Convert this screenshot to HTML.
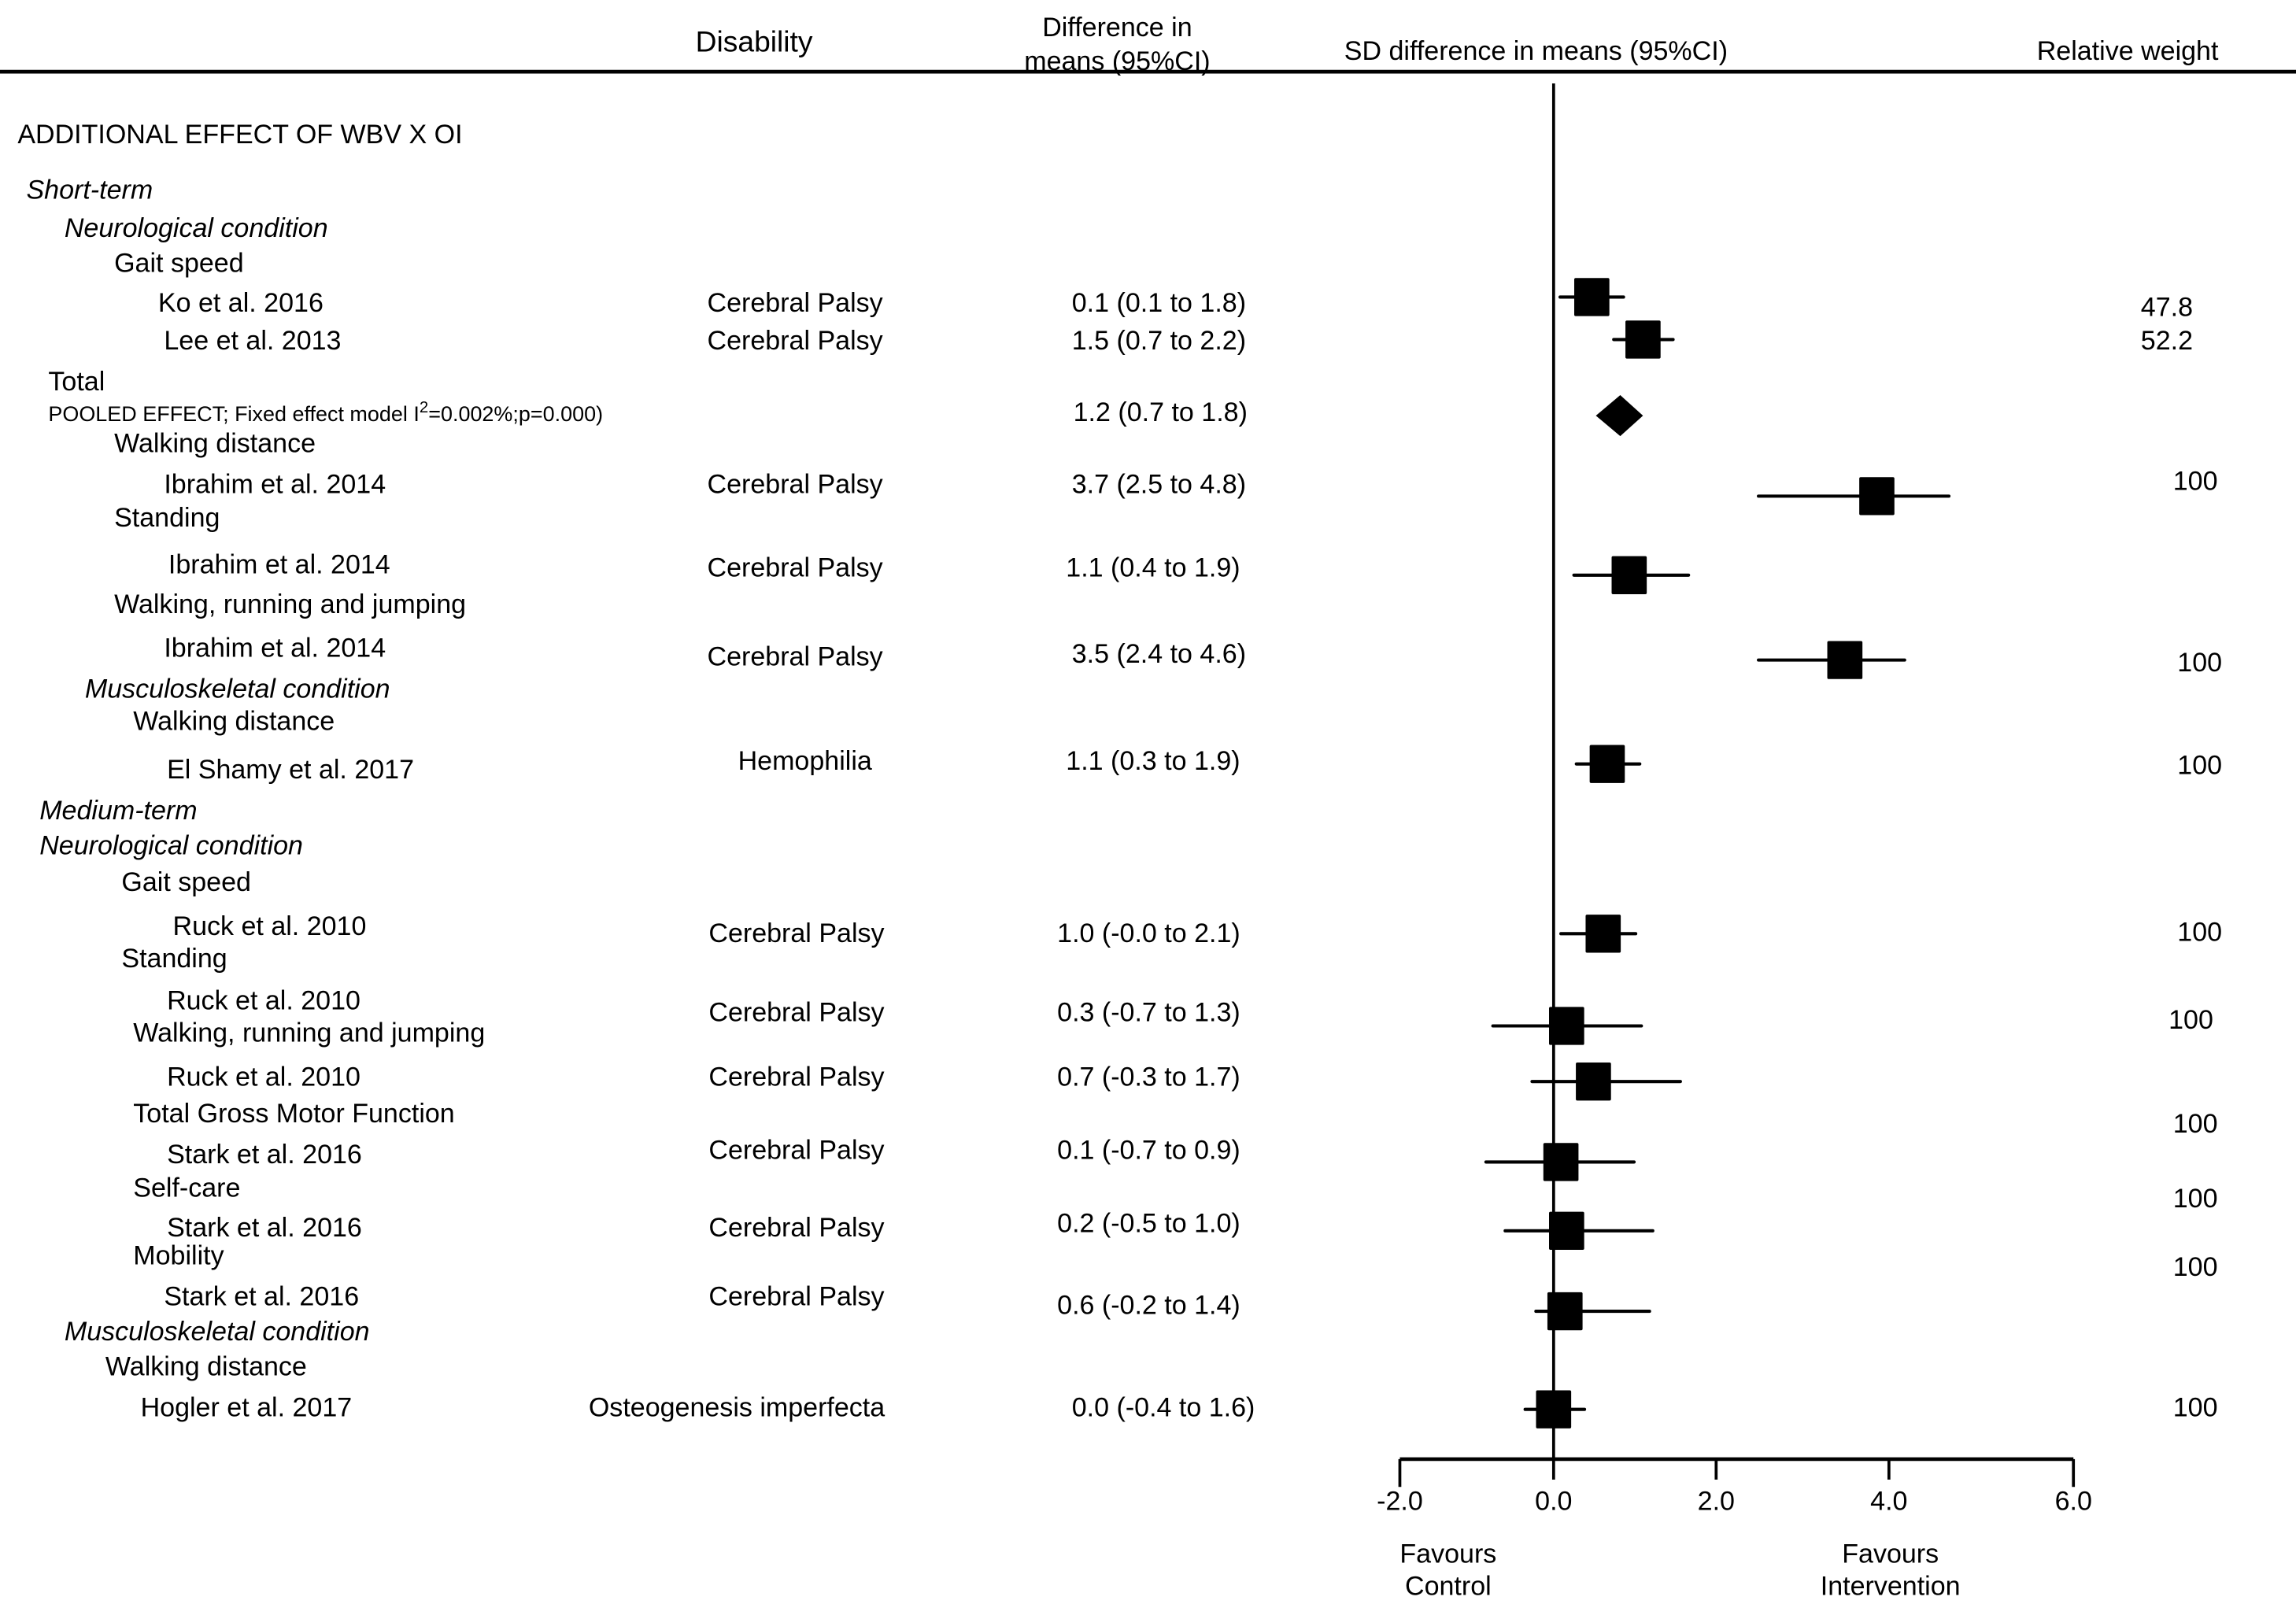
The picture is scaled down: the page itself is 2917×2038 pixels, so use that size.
<!DOCTYPE html>
<html><head><meta charset="utf-8"><style>
html,body{margin:0;padding:0;background:#fff}
svg{display:block}
text{font-family:"Liberation Sans",Arial,sans-serif;font-size:18.3px;fill:#000;dominant-baseline:middle}
.it{font-style:italic}
</style></head><body>
<svg id="chart" width="2917" height="2038" viewBox="0 0 1568 1096" preserveAspectRatio="none" xmlns="http://www.w3.org/2000/svg">
<line x1="0" y1="49" x2="1568" y2="49" stroke="#000" stroke-width="2.5"/>
<text x="475" y="30" style="font-size:20px">Disability</text>
<text x="763" y="20" text-anchor="middle">Difference in</text>
<text x="763" y="43" text-anchor="middle">means (95%CI)</text>
<text x="918" y="36">SD difference in means (95%CI)</text>
<text x="1391" y="36">Relative weight</text>
<g id="labels">
<text x="12" y="93">ADDITIONAL EFFECT OF WBV X OI</text>
<text class="it" x="18" y="131">Short-term</text>
<text class="it" x="44" y="157">Neurological condition</text>
<text x="78" y="181">Gait speed</text>
<text x="108" y="208">Ko et al. 2016</text>
<text x="112" y="234">Lee et al. 2013</text>
<text x="33" y="262">Total</text>
<text x="33" y="284" style="font-size:14.5px">POOLED EFFECT; Fixed effect model I<tspan dy="-5" style="font-size:11px">2</tspan><tspan dy="5">=0.002%;p=0.000)</tspan></text>
<text x="78" y="304">Walking distance</text>
<text x="112" y="332">Ibrahim et al. 2014</text>
<text x="78" y="355">Standing</text>
<text x="115" y="387">Ibrahim et al. 2014</text>
<text x="78" y="414">Walking, running and jumping</text>
<text x="112" y="444">Ibrahim et al. 2014</text>
<text class="it" x="58" y="472">Musculoskeletal condition</text>
<text x="91" y="494">Walking distance</text>
<text x="114" y="527">El Shamy et al. 2017</text>
<text class="it" x="27" y="555">Medium-term</text>
<text class="it" x="27" y="579">Neurological condition</text>
<text x="83" y="604">Gait speed</text>
<text x="118" y="634">Ruck et al. 2010</text>
<text x="83" y="656">Standing</text>
<text x="114" y="685">Ruck et al. 2010</text>
<text x="91" y="707">Walking, running and jumping</text>
<text x="114" y="737">Ruck et al. 2010</text>
<text x="91" y="762">Total Gross Motor Function</text>
<text x="114" y="790">Stark et al. 2016</text>
<text x="91" y="813">Self-care</text>
<text x="114" y="840">Stark et al. 2016</text>
<text x="91" y="859">Mobility</text>
<text x="112" y="887">Stark et al. 2016</text>
<text class="it" x="44" y="911">Musculoskeletal condition</text>
<text x="72" y="935">Walking distance</text>
<text x="96" y="963">Hogler et al. 2017</text>
</g>
<g id="cols">
<text x="483" y="208">Cerebral Palsy</text>
<text x="483" y="234">Cerebral Palsy</text>
<text x="483" y="332">Cerebral Palsy</text>
<text x="483" y="389">Cerebral Palsy</text>
<text x="483" y="450">Cerebral Palsy</text>
<text x="504" y="521">Hemophilia</text>
<text x="484" y="639">Cerebral Palsy</text>
<text x="484" y="693">Cerebral Palsy</text>
<text x="484" y="737">Cerebral Palsy</text>
<text x="484" y="787">Cerebral Palsy</text>
<text x="484" y="840">Cerebral Palsy</text>
<text x="484" y="887">Cerebral Palsy</text>
<text x="402" y="963">Osteogenesis imperfecta</text>
<text x="732" y="208">0.1 (0.1 to 1.8)</text>
<text x="732" y="234">1.5 (0.7 to 2.2)</text>
<text x="733" y="283">1.2 (0.7 to 1.8)</text>
<text x="732" y="332">3.7 (2.5 to 4.8)</text>
<text x="728" y="389">1.1 (0.4 to 1.9)</text>
<text x="732" y="448">3.5 (2.4 to 4.6)</text>
<text x="728" y="521">1.1 (0.3 to 1.9)</text>
<text x="722" y="639">1.0 (-0.0 to 2.1)</text>
<text x="722" y="693">0.3 (-0.7 to 1.3)</text>
<text x="722" y="737">0.7 (-0.3 to 1.7)</text>
<text x="722" y="787">0.1 (-0.7 to 0.9)</text>
<text x="722" y="837">0.2 (-0.5 to 1.0)</text>
<text x="722" y="893">0.6 (-0.2 to 1.4)</text>
<text x="732" y="963">0.0 (-0.4 to 1.6)</text>
<text x="1462" y="211">47.8</text>
<text x="1462" y="234">52.2</text>
<text x="1484" y="330">100</text>
<text x="1487" y="454">100</text>
<text x="1487" y="524">100</text>
<text x="1487" y="638">100</text>
<text x="1481" y="698">100</text>
<text x="1484" y="769">100</text>
<text x="1484" y="820">100</text>
<text x="1484" y="867">100</text>
<text x="1484" y="963">100</text>
</g>
<g id="plot"></g>
<text x="989" y="1063" text-anchor="middle">Favours</text>
<text x="989" y="1085" text-anchor="middle">Control</text>
<text x="1291" y="1063" text-anchor="middle">Favours</text>
<text x="1291" y="1085" text-anchor="middle">Intervention</text>
</svg>
<script>
const studies = ["Ko 2016","Lee 2013","Ibrahim walk","Ibrahim stand","Ibrahim WRJ","El Shamy","Ruck gait","Ruck stand","Ruck WRJ","Stark TGMF","Stark self","Stark mob","Hogler"];
const estimates = [0.47,1.10,3.86,0.93,3.49,0.66,0.61,0.16,0.49,0.09,0.16,0.14,0.0];
const lowerCI = [0.08,0.74,2.49,0.25,2.49,0.28,0.09,-0.79,-0.28,-0.88,-0.63,-0.23,-0.37];
const upperCI = [0.86,1.47,4.65,1.66,4.17,1.06,1.01,1.08,1.56,0.99,1.22,1.18,0.38];
const pooledEst = [0.82];
const pooledLow = [0.52];
const pooledHigh = [1.10];
const tickValues = [-2,0,2,4,6];
const tickLabels = ["-2.0","0.0","2.0","4.0","6.0"];

const NS="http://www.w3.org/2000/svg";
const plot=document.getElementById('plot');
const rowY=[203,232,339,393,451,522,638,701,739,794,841,896,963];
const pooledY=284;
const tickPx=[956,1061,1172,1290,1416];
function xScale(v){
  for(let i=0;i<tickValues.length-1;i++){
    if(v<=tickValues[i+1]||i===tickValues.length-2){
      const t=(v-tickValues[i])/(tickValues[i+1]-tickValues[i]);
      return tickPx[i]+t*(tickPx[i+1]-tickPx[i]);
    }
  }
}
function mk(tag,attrs){const e=document.createElementNS(NS,tag);for(const k in attrs)e.setAttribute(k,attrs[k]);plot.appendChild(e);return e;}
const axisY=997;
let zl=mk('line',{x1:xScale(0),y1:57,x2:xScale(0),y2:axisY,stroke:'#000','stroke-width':2});


let ax=mk('line',{x1:xScale(-2),y1:axisY,x2:xScale(6),y2:axisY,stroke:'#000','stroke-width':2.5});


tickValues.forEach((v,i)=>{
  const t=mk('line',{x1:xScale(v),y1:axisY,x2:xScale(v),y2:axisY+(i===0||i===4?19:14),stroke:'#000','stroke-width':2});
  
  
  const l=mk('text',{x:xScale(v),y:1027,'text-anchor':'middle'});
  l.textContent=tickLabels[i];
  
  
});
studies.forEach((s,i)=>{
  const y=rowY[i];
  const w=mk('line',{x1:xScale(lowerCI[i]),y1:y,x2:xScale(upperCI[i]),y2:y,stroke:'#000','stroke-width':2.2,'stroke-linecap':'round'});
  
  
  const sz=24;
  const r=mk('rect',{x:xScale(estimates[i])-sz/2,y:y-sz/2-1,width:sz,height:sz+2,fill:'#000',rx:1});
  
  
});
pooledEst.forEach((v,i)=>{
  const xl=xScale(pooledLow[i]),xr=xScale(pooledHigh[i]),xc=xScale(v),y=pooledY;
  const d=mk('polygon',{points:`${xl},${y} ${xc},${y-14} ${xr},${y} ${xc},${y+14}`,fill:'#000'});
  
  
});
</script>
</body></html>
